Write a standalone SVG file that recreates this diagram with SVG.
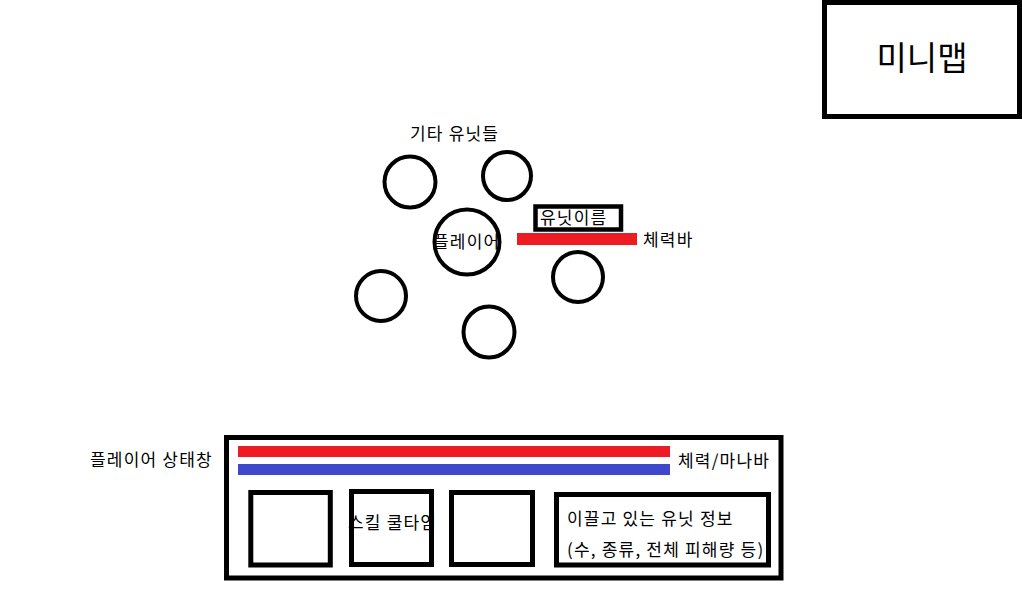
<svg xmlns="http://www.w3.org/2000/svg" width="1022" height="591" viewBox="0 0 1022 591">
<style>
.box{fill:none;stroke:#000;stroke-width:5}
.unit{fill:none;stroke:#000;stroke-width:4}
.t{font-family:"Noto Sans CJK KR","Noto Sans",sans-serif;font-size:17px;letter-spacing:1.2px;fill:#000}
.red{fill:#ED1C24}
.blue{fill:#3F48CC}
</style>
<rect width="1022" height="591" fill="#fff"/>
<g id="minimap">
<rect class="box" x="824.5" y="2.5" width="195" height="114"/>
<text class="t" x="922" y="70" text-anchor="middle" style="font-size:33px;letter-spacing:0">미니맵</text>
</g>
<g id="other-units-label"><text class="t" x="410" y="140">기타 유닛들</text></g>
<g id="unit1"><circle class="unit" cx="410" cy="182" r="25.5"/></g>
<g id="unit2"><circle class="unit" cx="507" cy="176" r="24"/></g>
<g id="unit3"><circle class="unit" cx="381" cy="296" r="25"/></g>
<g id="unit4"><circle class="unit" cx="489" cy="332" r="25.5"/></g>
<g id="unit5"><circle class="unit" cx="578" cy="277" r="25"/></g>
<g id="player">
<circle class="unit" cx="467" cy="242" r="32.5"/>
<text class="t" x="433" y="248">플레이어</text>
</g>
<g id="unit-name">
<rect class="box" x="535.5" y="206.5" width="85.5" height="23" style="stroke-width:4.5"/>
<text class="t" x="540" y="224">유닛이름</text>
</g>
<g id="hp-bar">
<rect class="red" x="517" y="233" width="120" height="12"/>
<text class="t" x="643" y="246">체력바</text>
</g>
<g id="status-label"><text class="t" x="90" y="466">플레이어 상태창</text></g>
<g id="status-window">
<rect class="box" x="226.5" y="437.5" width="554.5" height="140.5"/>
<rect class="red" x="238" y="446" width="432" height="11"/>
<rect class="blue" x="238" y="464" width="432" height="11"/>
<text class="t" x="678" y="467">체력/마나바</text>
</g>
<g id="skill1"><rect class="box" x="250.8" y="492.5" width="79.5" height="72.5"/></g>
<g id="skill2"><rect class="box" x="351.5" y="491.5" width="80" height="73"/></g>
<g id="skill3"><rect class="box" x="451.5" y="492.5" width="81" height="72"/></g>
<g id="skill-label"><text class="t" x="348" y="529">스킬 쿨타임</text></g>
<g id="led-units">
<rect class="box" x="556.5" y="494.5" width="212" height="70.5"/>
<text class="t" x="567" y="525">이끌고 있는 유닛 정보</text>
<text class="t" x="567" y="556">(수, 종류, 전체 피해량 등)</text>
</g>
<g id="connectors"></g>
</svg>
